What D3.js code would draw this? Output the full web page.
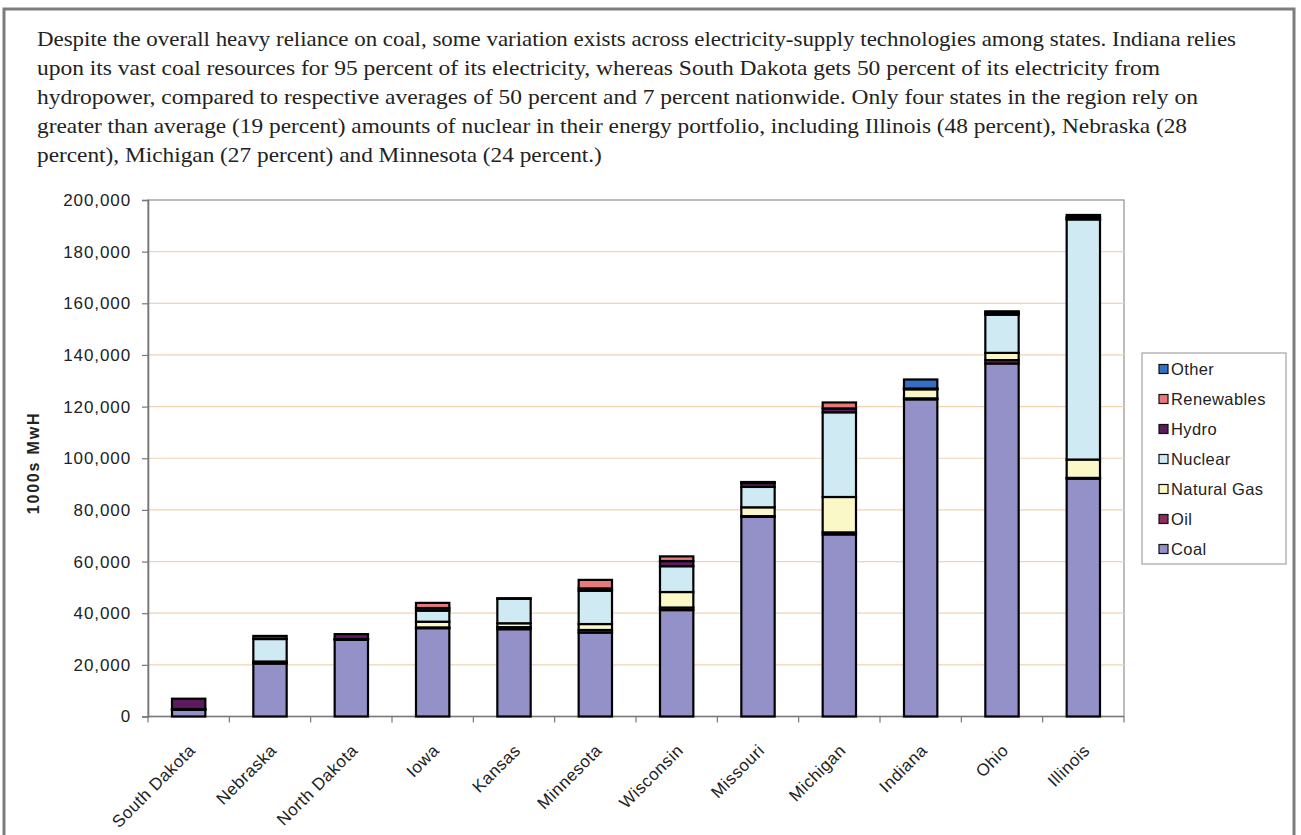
<!DOCTYPE html>
<html>
<head>
<meta charset="utf-8">
<script src="https://cdn.jsdelivr.net/npm/d3@7"></script>
<style>
  html, body { margin: 0; padding: 0; background: #fff; }
  svg { display: block; }
</style>
</head>
<body>
<svg id="chart" width="1301" height="835"></svg>
<script>
// Net generation by source, 1000s MWh, Midwest states
const states = ["South Dakota", "Nebraska", "North Dakota", "Iowa", "Kansas", "Minnesota",
                "Wisconsin", "Missouri", "Michigan", "Indiana", "Ohio", "Illinois"];
const coal       = [2600, 20500, 29700, 34200, 33800, 32500, 41200, 77300, 70500, 122800, 136700, 92100];
const oil        = [100, 300, 200, 300, 800, 1000, 1000, 300, 800, 400, 1300, 300];
const naturalGas = [200, 500, 100, 2200, 1500, 2300, 6000, 3400, 13700, 3500, 2800, 7100];
const nuclear    = [0, 8700, 0, 4300, 9500, 12900, 10000, 7900, 32800, 0, 14800, 93000];
const hydro      = [4000, 1200, 1900, 1000, 200, 900, 2000, 1500, 1500, 200, 500, 100];
const renewables = [0, 0, 0, 2000, 0, 3300, 1800, 200, 2300, 100, 500, 800];
const other      = [0, 0, 0, 0, 0, 0, 0, 200, 0, 3500, 300, 800];

const seriesNames = ["Coal", "Oil", "Natural Gas", "Nuclear", "Hydro", "Renewables", "Other"];
const seriesValues = [coal, oil, naturalGas, nuclear, hydro, renewables, other];
const yTicks = [0, 20000, 40000, 60000, 80000, 100000, 120000, 140000, 160000, 180000, 200000];

const paragraph = [
  "Despite the overall heavy reliance on coal, some variation exists across electricity-supply technologies among states. Indiana relies",
  "upon its vast coal resources for 95 percent of its electricity, whereas South Dakota gets 50 percent of its electricity from",
  "hydropower, compared to respective averages of 50 percent and 7 percent nationwide. Only four states in the region rely on",
  "greater than average (19 percent) amounts of nuclear in their energy portfolio, including Illinois (48 percent), Nebraska (28",
  "percent), Michigan (27 percent) and Minnesota (24 percent.)"
];

const colors = {
  "Coal": "#9490c8",
  "Oil": "#8e2d5c",
  "Natural Gas": "#fbf8c8",
  "Nuclear": "#cfeaf2",
  "Hydro": "#5c1b5e",
  "Renewables": "#e8797a",
  "Other": "#356fc3"
};

const rows = states.map((s, i) => {
  const r = { state: s };
  seriesNames.forEach((k, j) => { r[k] = seriesValues[j][i]; });
  return r;
});

const svg = d3.select("#chart");
const plot = { left: 148, right: 1124, top: 200, bottom: 716.5 };

// outer frame
svg.append("rect")
  .attr("x", 4).attr("y", 9).attr("width", 1290).attr("height", 900)
  .attr("fill", "none").attr("stroke", "#7d7d7d").attr("stroke-width", 3);

// paragraph: full lines are justified to their set widths, the last line keeps
// the same average compression as the others
const fullLineWidths = [1199, 1123, 1161, 1150];
const para = svg.append("g");
const paraText = para.selectAll("text").data(paragraph).join("text")
  .attr("x", 37)
  .attr("y", (d, i) => 46 + i * 29)
  .attr("font-family", "'Liberation Serif', 'DejaVu Serif', serif")
  .attr("font-size", 21)
  .attr("fill", "#222")
  .text(d => d);
const natural = paraText.nodes().map(n => n.getComputedTextLength());
const ratio = d3.mean(fullLineWidths, (w, i) => w / natural[i]);
paraText
  .attr("textLength", (d, i) => i < fullLineWidths.length ? fullLineWidths[i] : natural[i] * ratio)
  .attr("lengthAdjust", "spacingAndGlyphs");

const x = d3.scaleBand().domain(states)
  .range([plot.left, plot.right])
  .paddingInner(0.59).paddingOuter(0.295);
const y = d3.scaleLinear().domain([0, 200000]).range([plot.bottom, plot.top]);

// plot area
svg.append("rect")
  .attr("x", plot.left).attr("y", plot.top)
  .attr("width", plot.right - plot.left).attr("height", plot.bottom - plot.top)
  .attr("fill", "#fff").attr("stroke", "#8f8f8f").attr("stroke-width", 1.2);

// gridlines
svg.append("g").selectAll("line").data(yTicks.filter(t => t > 0 && t < 200000)).join("line")
  .attr("x1", plot.left).attr("x2", plot.right)
  .attr("y1", d => y(d)).attr("y2", d => y(d))
  .attr("stroke", "#f1d4b3").attr("stroke-width", 1.2);

// y axis
const yAxis = svg.append("g")
  .attr("transform", `translate(${plot.left},0)`)
  .call(d3.axisLeft(y).tickValues(yTicks).tickSize(6).tickPadding(11).tickFormat(d3.format(",")));
yAxis.select(".domain").attr("stroke", "#777").attr("stroke-width", 1.6);
yAxis.selectAll(".tick line").attr("stroke", "#777").attr("stroke-width", 1.2);
yAxis.selectAll(".tick text")
  .attr("font-family", "'Liberation Sans', Arial, sans-serif")
  .attr("font-size", 17).attr("letter-spacing", 0.9).attr("fill", "#222");

// x axis: ticks between categories
const boundaries = d3.range(states.length + 1).map(i => plot.left + i * x.step());
svg.append("line")
  .attr("x1", plot.left).attr("x2", plot.right)
  .attr("y1", plot.bottom).attr("y2", plot.bottom)
  .attr("stroke", "#777").attr("stroke-width", 1.6);
svg.append("g").selectAll("line").data(boundaries).join("line")
  .attr("x1", d => d).attr("x2", d => d)
  .attr("y1", plot.bottom).attr("y2", plot.bottom + 6)
  .attr("stroke", "#777").attr("stroke-width", 1.2);

svg.append("g").selectAll("text").data(states).join("text")
  .attr("transform", d => `translate(${x(d) + x.bandwidth() / 2 - 1},743) rotate(-45)`)
  .attr("text-anchor", "end")
  .attr("dy", "0.71em")
  .attr("font-family", "'Liberation Sans', Arial, sans-serif")
  .attr("font-size", 17).attr("letter-spacing", 0.5).attr("fill", "#222")
  .text(d => d);

// y axis title
svg.append("text")
  .attr("transform", "translate(39,463) rotate(-90)")
  .attr("text-anchor", "middle")
  .attr("font-family", "'Liberation Sans', Arial, sans-serif")
  .attr("font-weight", "bold")
  .attr("font-size", 16).attr("letter-spacing", 1.8).attr("fill", "#222")
  .text("1000s MwH");

// stacked bars
const stacked = d3.stack().keys(seriesNames)(rows);
svg.append("g").selectAll("g").data(stacked).join("g")
  .attr("fill", d => colors[d.key])
  .selectAll("rect").data(d => d.filter(s => s[1] - s[0] > 0)).join("rect")
  .attr("x", d => x(d.data.state))
  .attr("width", x.bandwidth())
  .attr("y", d => y(d[1]))
  .attr("height", d => y(d[0]) - y(d[1]))
  .attr("stroke", "#000").attr("stroke-width", 2.2);

// legend
const legend = svg.append("g");
legend.append("rect")
  .attr("x", 1142).attr("y", 353).attr("width", 144).attr("height", 211)
  .attr("fill", "#fff").attr("stroke", "#a3a3a3").attr("stroke-width", 1.2);
const legendItems = seriesNames.slice().reverse();
const li = legend.selectAll("g.item").data(legendItems).join("g")
  .attr("class", "item")
  .attr("transform", (d, i) => `translate(1159,${369 + i * 30})`);
li.append("rect")
  .attr("x", 0).attr("y", -4.5).attr("width", 9).attr("height", 9)
  .attr("fill", d => colors[d]).attr("stroke", "#111").attr("stroke-width", 1.2);
li.append("text")
  .attr("x", 12).attr("dy", "0.36em")
  .attr("font-family", "'Liberation Sans', Arial, sans-serif")
  .attr("font-size", 16.5).attr("letter-spacing", 0.4).attr("fill", "#222")
  .text(d => d);
</script>
</body>
</html>
